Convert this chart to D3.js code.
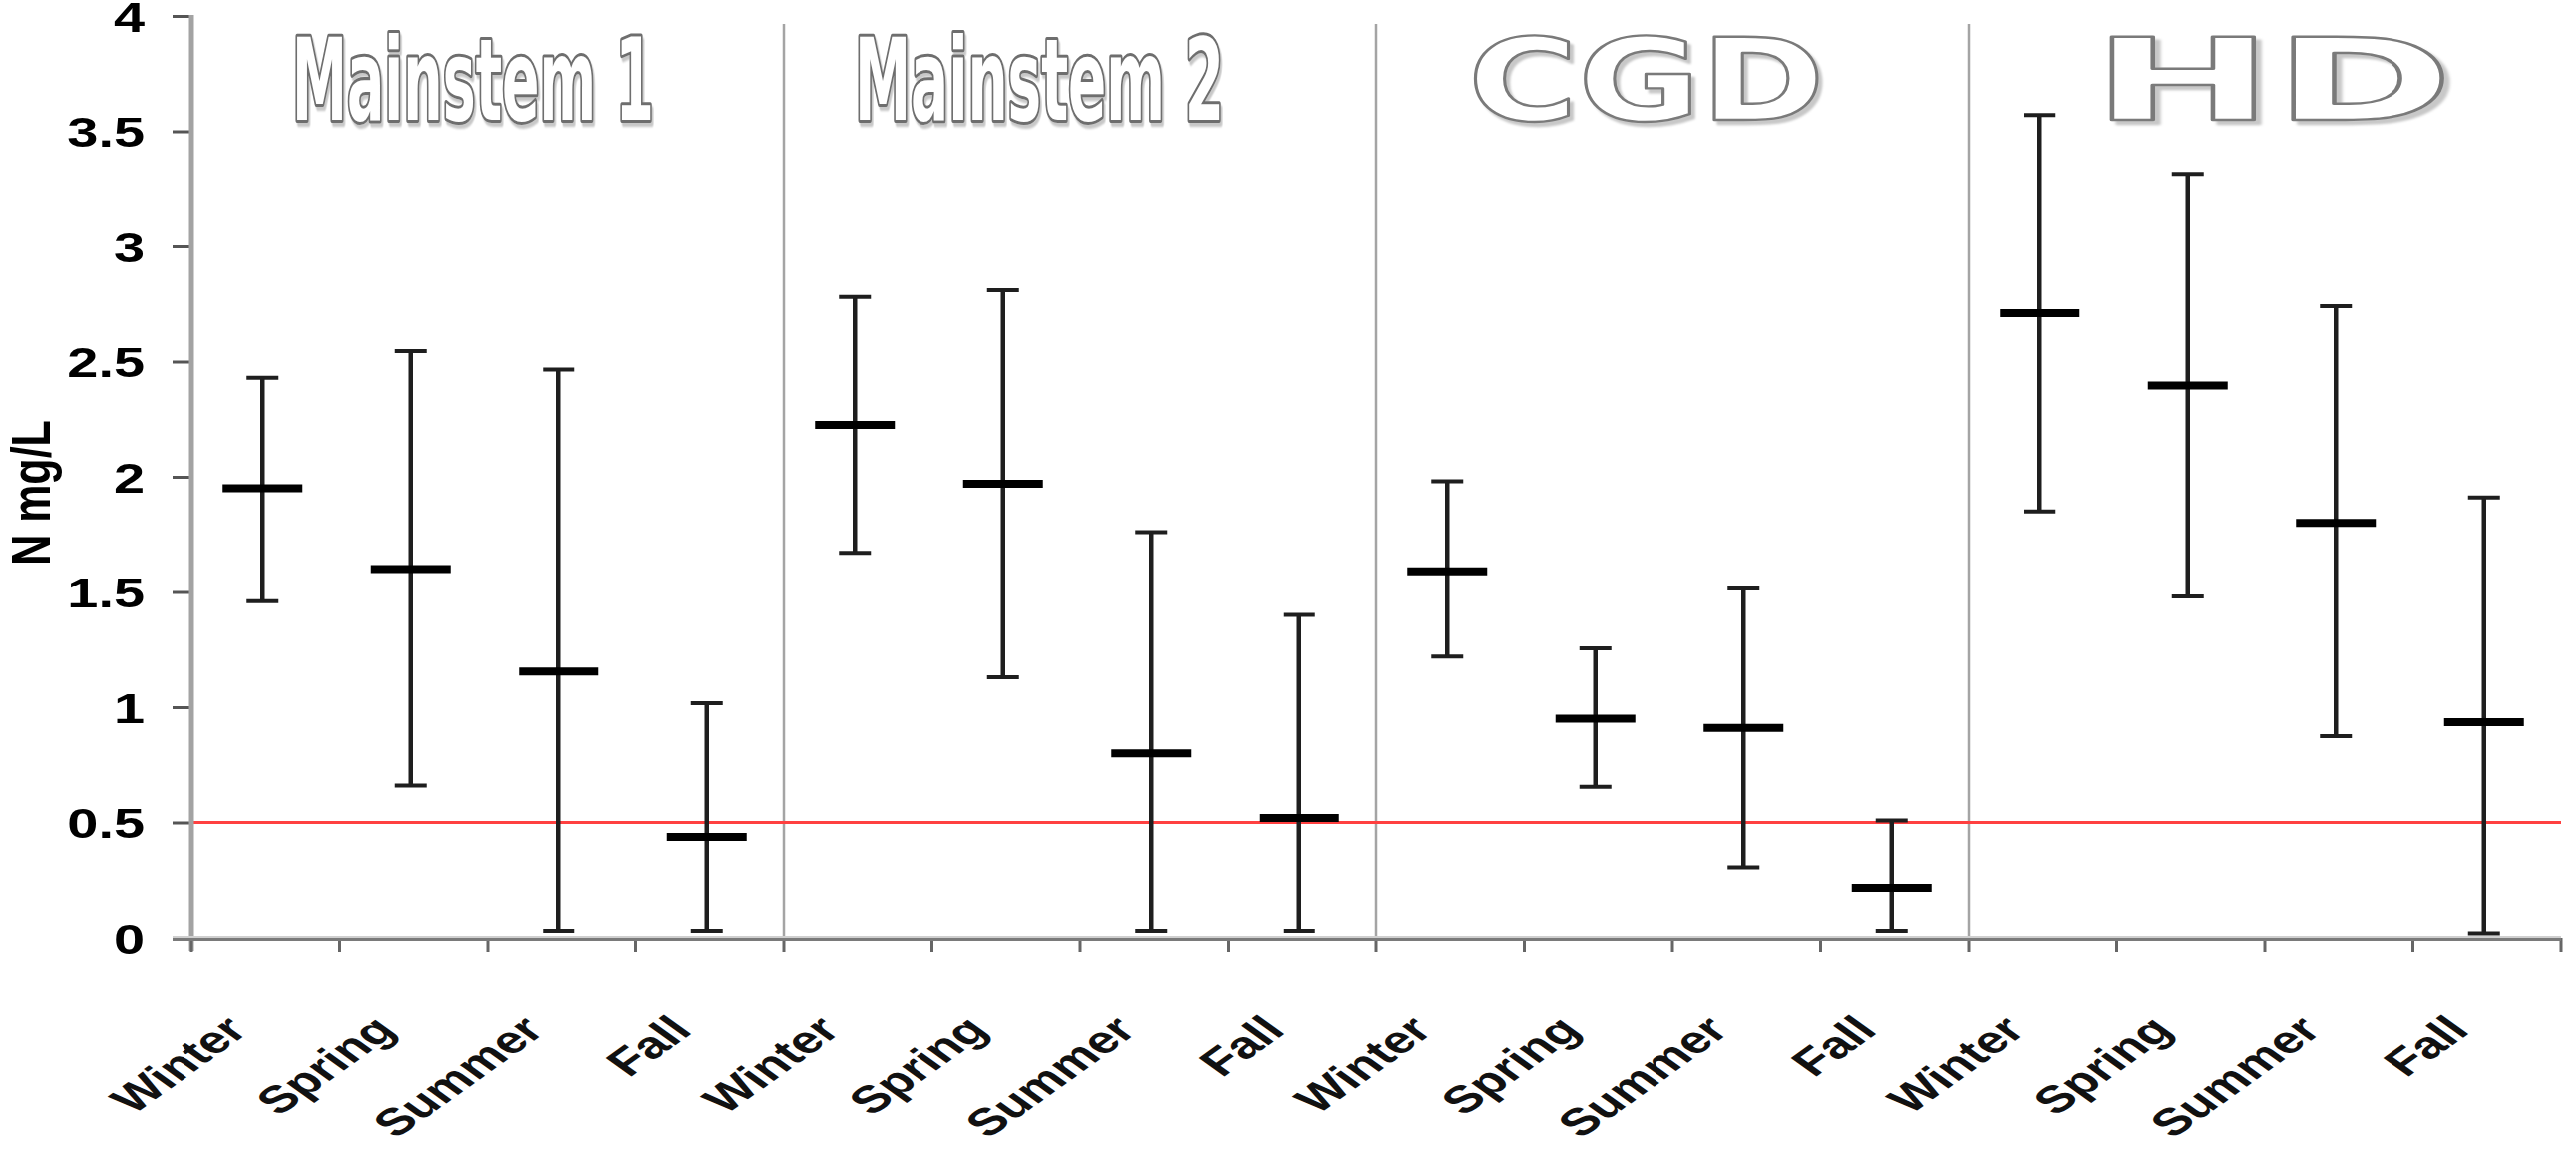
<!DOCTYPE html>
<html>
<head>
<meta charset="utf-8">
<script src="https://cdn.jsdelivr.net/npm/d3@7"></script>
<style>
  html, body { margin: 0; padding: 0; background: #fff; }
  svg { display: block; }
</style>
</head>
<body>
<svg id="chart" width="2583" height="1175"></svg>
<script>
// ---------------- DATA ----------------
const groups  = ["Mainstem 1", "Mainstem 2", "CGD", "HD"];
const seasons = ["Winter", "Spring", "Summer", "Fall"];
// values in group order, seasons Winter..Fall within each group
const means = [1.95, 1.60, 1.155, 0.437,  2.225, 1.97, 0.80, 0.52,  1.59, 0.95, 0.91, 0.216,  2.71, 2.396, 1.80, 0.935];
const upper = [2.43, 2.545, 2.465, 1.017, 2.78, 2.81, 1.76, 1.40,  1.98, 1.255, 1.515, 0.509, 3.57, 3.315, 2.74, 1.91];
const lower = [1.46, 0.66, 0.03, 0.03,    1.67, 1.13, 0.03, 0.03,  1.22, 0.655, 0.305, 0.03, 1.85, 1.48, 0.875, 0.02];
const yTicks = [0, 0.5, 1, 1.5, 2, 2.5, 3, 3.5, 4];
const threshold = 0.5;
const yLabel = "N mg/L";

// ---------------- LAYOUT ----------------
const X0 = 192, X1 = 2568, Y0 = 940, Y4 = 16;
const titleLayout = [
  { left: 293,  width: 363, font: "'Liberation Sans Narrow','DejaVu Sans Condensed','Arial Narrow',sans-serif", kind: "heavy" },
  { left: 857,  width: 370, font: "'Liberation Sans Narrow','DejaVu Sans Condensed','Arial Narrow',sans-serif", kind: "heavy" },
  { left: 1472, width: 358, font: "'DejaVu Sans','Liberation Sans',sans-serif", kind: "thin" },
  { left: 2098, width: 362, font: "'DejaVu Sans','Liberation Sans',sans-serif", kind: "thin" }
];

const cats = [];
groups.forEach((g, gi) => seasons.forEach((s, si) => {
  const i = gi * seasons.length + si;
  cats.push({ id: g + "|" + s, group: g, season: s, mean: means[i], hi: upper[i], lo: lower[i] });
}));

const svg = d3.select("#chart");
const defs = svg.append("defs");
defs.append("filter").attr("id", "shadow").attr("x", "-5%").attr("y", "-10%").attr("width", "115%").attr("height", "130%")
  .append("feDropShadow").attr("dx", 3).attr("dy", 4).attr("stdDeviation", 0.8)
  .attr("flood-color", "#c8c8c8").attr("flood-opacity", 1);

const x = d3.scaleBand().domain(cats.map(d => d.id)).range([X0, X1]).padding(0);
const y = d3.scaleLinear().domain([0, 4]).range([Y0, Y4]);
const bw = x.bandwidth();
const cx = d => x(d.id) + bw / 2 - 3;

// ---------------- GROUP DIVIDERS ----------------
groups.slice(1).forEach(g => {
  const xv = x(g + "|" + seasons[0]);
  svg.append("line").attr("x1", xv).attr("x2", xv).attr("y1", 24).attr("y2", Y0)
    .attr("stroke", "#a4a4a4").attr("stroke-width", 2.5);
});

// ---------------- THRESHOLD LINE ----------------
svg.append("line").attr("x1", X0).attr("x2", X1).attr("y1", y(threshold)).attr("y2", y(threshold))
  .attr("stroke", "#ff4040").attr("stroke-width", 3.2);

// ---------------- Y AXIS ----------------
const yAxis = d3.axisLeft(y).tickValues(yTicks).tickSize(19).tickFormat(d3.format("~g"));
const gy = svg.append("g").attr("transform", `translate(${X0},0)`).call(yAxis);
gy.select(".domain").remove();
gy.selectAll(".tick line").attr("stroke", "#555").attr("stroke-width", 3);
gy.selectAll(".tick text")
  .attr("x", null).attr("dy", "0.36em")
  .attr("transform", "translate(-47,0) scale(1.3,1)")
  .attr("text-anchor", "end")
  .attr("fill", "#000")
  .style("font-family", "'Liberation Sans', Arial, sans-serif")
  .style("font-weight", "bold")
  .style("font-size", "43px");
svg.append("line").attr("x1", X0).attr("x2", X0).attr("y1", y(4) - 1).attr("y2", Y0 + 13)
  .attr("stroke", "#a3a3a3").attr("stroke-width", 5);

// ---------------- X AXIS ----------------
const bounds = cats.map(d => x(d.id)).concat([X1]);
svg.selectAll(".xtick").data(bounds).enter().append("line")
  .attr("x1", d => d).attr("x2", d => d).attr("y1", Y0).attr("y2", Y0 + 14)
  .attr("stroke", "#666").attr("stroke-width", 3);
svg.append("line").attr("x1", X0 - 19).attr("x2", X1).attr("y1", Y0 - 1).attr("y2", Y0 - 1)
  .attr("stroke", "#cfcfcf").attr("stroke-width", 2);
svg.append("line").attr("x1", X0 - 19).attr("x2", X1).attr("y1", Y0 + 1.5).attr("y2", Y0 + 1.5)
  .attr("stroke", "#7a7a7a").attr("stroke-width", 3);

svg.selectAll(".xlab").data(cats).enter().append("text")
  .attr("transform", d => `translate(${x(d.id) + bw / 2 - 16},1035) scale(1.4,1) rotate(-45)`)
  .attr("text-anchor", "end")
  .style("font-family", "'Liberation Sans', Arial, sans-serif")
  .style("font-weight", "bold")
  .style("font-size", "38px")
  .attr("fill", "#111")
  .text(d => d.season);

// ---------------- Y LABEL ----------------
svg.append("text")
  .attr("transform", "translate(50,494) rotate(-90) scale(1,1.3)")
  .attr("text-anchor", "middle")
  .style("font-family", "'Liberation Sans', Arial, sans-serif")
  .style("font-weight", "bold")
  .style("font-size", "43px")
  .attr("fill", "#000")
  .text(yLabel);

// ---------------- ERROR BARS ----------------
const bars = svg.selectAll(".bar").data(cats).enter().append("g");
bars.append("line")
  .attr("x1", cx).attr("x2", cx).attr("y1", d => y(d.hi)).attr("y2", d => y(d.lo))
  .attr("stroke", "#1e1e1e").attr("stroke-width", 4.5);
bars.append("line")
  .attr("x1", d => cx(d) - 16).attr("x2", d => cx(d) + 16).attr("y1", d => y(d.hi)).attr("y2", d => y(d.hi))
  .attr("stroke", "#1e1e1e").attr("stroke-width", 4);
bars.append("line")
  .attr("x1", d => cx(d) - 16).attr("x2", d => cx(d) + 16).attr("y1", d => y(d.lo)).attr("y2", d => y(d.lo))
  .attr("stroke", "#1e1e1e").attr("stroke-width", 4);
bars.append("line")
  .attr("x1", d => cx(d) - 40).attr("x2", d => cx(d) + 40).attr("y1", d => y(d.mean)).attr("y2", d => y(d.mean))
  .attr("stroke", "#000").attr("stroke-width", 8);

// ---------------- TITLES ----------------
groups.forEach((g, i) => {
  const L = titleLayout[i];
  const t = svg.append("text").attr("x", 0).attr("y", 0)
    .style("font-family", L.font).style("font-weight", "bold").style("font-size", "114px")
    .attr("fill", "#fff").attr("stroke-linejoin", "round")
    .attr("filter", "url(#shadow)")
    .text(g);
  if (L.kind === "heavy") {
    t.attr("stroke", "#6e6e6e").attr("stroke-width", 6).style("paint-order", "stroke");
  } else {
    t.attr("stroke", "#7a7a7a").attr("stroke-width", 2.4);
  }
  const natural = t.node().getComputedTextLength() || L.width;
  t.attr("transform", `translate(${L.left},120) scale(${L.width / natural},1)`);
});
</script>
</body>
</html>
